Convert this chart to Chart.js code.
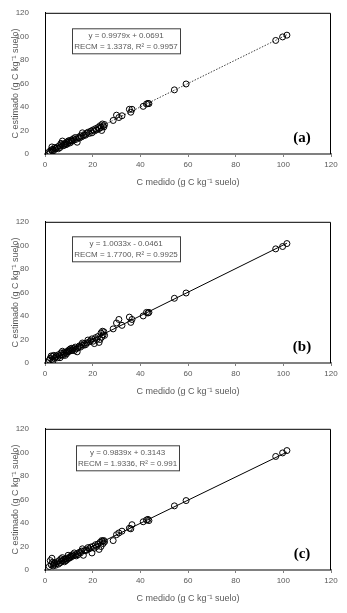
<!DOCTYPE html>
<html lang="es">
<head>
  <meta charset="UTF-8" />
  <title>C medido vs C estimado</title>
  <script src="https://cdn.jsdelivr.net/npm/chart.js"></script>
  <style>
    body {
      margin: 0;
      background: #ffffff;
      width: 347px;
      height: 613px;
      position: relative;
      overflow: hidden;
    }
    .panel {
      position: absolute;
      left: 0;
      width: 347px;
      height: 195px;
    }
  </style>
</head>
<body>
  <div class="panel" style="top:0px"><canvas id="chartA" width="347" height="195"></canvas></div>
  <div class="panel" style="top:209px"><canvas id="chartB" width="347" height="195"></canvas></div>
  <div class="panel" style="top:416px"><canvas id="chartC" width="347" height="195"></canvas></div>

  <script>
    // C medido (g C kg-1 suelo), comun a los tres paneles
    const medido = [1.8, 2.2, 2.6, 2.9, 3.1, 3.4, 3.7, 4.0, 4.4, 4.8,
      5.2, 5.6, 6.0, 6.3, 6.7, 7.0, 7.3, 7.6, 7.9, 8.2,
      8.5, 8.8, 9.1, 9.4, 9.7, 10.0, 10.3, 10.6, 10.9, 11.2,
      11.5, 11.9, 12.3, 12.7, 13.1, 13.5, 13.9, 14.4, 14.9, 15.3,
      15.7, 16.1, 16.5, 17.0, 17.5, 18.0, 18.6, 19.2, 19.7, 20.2,
      20.7, 21.2, 21.7, 22.2, 22.7, 23.1, 23.5, 23.8, 24.1, 24.4,
      24.7, 25.0, 28.6, 30.0, 31.0, 32.3, 35.4, 36.0, 36.5, 41.2,
      42.6, 43.2, 43.6, 54.3, 59.2, 96.8, 99.7, 101.5];

    // C estimado, panel (a)
    const estimadoA = [2.0, 1.5, 3.5, 6.0, 2.5, 4.0, 3.0, 5.5, 4.5, 5.0,
      6.0, 4.5, 7.0, 5.5, 9.0, 8.0, 11.0, 7.0, 8.5, 7.5,
      9.0, 8.0, 10.0, 8.5, 11.0, 10.0, 11.5, 9.5, 11.0, 12.0,
      11.0, 13.0, 12.0, 14.0, 12.5, 10.0, 14.0, 13.5, 15.5, 14.5,
      18.0, 15.5, 16.5, 16.0, 17.5, 18.5, 17.5, 19.5, 18.0, 20.5,
      19.5, 21.5, 20.5, 22.5, 21.5, 24.0, 22.5, 20.0, 25.5, 24.0,
      23.0, 25.0, 28.5, 33.0, 31.0, 32.5, 38.0, 35.5, 38.0, 40.5,
      42.5, 43.0, 42.8, 54.5, 59.5, 96.5, 99.5, 101.0];

    // C estimado, panel (b)
    const estimadoB = [2.5, 4.0, 6.0, 3.0, 5.5, 2.0, 6.5, 4.0, 5.0, 6.0,
      4.5, 7.0, 6.0, 4.5, 8.5, 7.0, 10.0, 6.5, 9.0, 8.0,
      6.5, 9.0, 8.0, 10.0, 9.5, 11.0, 10.0, 12.0, 10.5, 12.5,
      11.0, 12.5, 10.5, 13.5, 12.0, 9.5, 13.0, 14.5, 13.5, 15.5,
      17.0, 15.0, 16.5, 15.5, 17.0, 19.5, 18.0, 19.0, 20.5, 18.5,
      16.5, 21.5, 20.0, 22.5, 17.5, 20.0, 25.5, 22.0, 27.0, 24.0,
      26.5, 23.5, 29.0, 34.0, 37.0, 32.0, 39.0, 34.5, 37.0, 40.0,
      43.0, 42.5, 43.0, 55.0, 59.5, 97.0, 99.0, 101.5];

    // C estimado, panel (c)
    const estimadoC = [3.0, 8.0, 4.5, 10.0, 6.5, 3.5, 5.0, 6.0, 4.0, 5.5,
      7.0, 5.0, 8.0, 6.0, 9.5, 7.5, 10.5, 8.0, 9.0, 7.0,
      9.5, 8.0, 10.0, 9.0, 12.5, 10.0, 11.0, 10.5, 12.0, 11.5,
      13.0, 12.0, 14.5, 13.0, 12.0, 14.0, 13.0, 15.0, 14.5, 16.0,
      18.0, 12.5, 16.5, 16.5, 17.0, 19.0, 18.0, 19.5, 14.5, 20.0,
      18.5, 21.5, 20.0, 22.0, 17.5, 23.5, 20.0, 25.0, 24.5, 22.5,
      25.0, 24.0, 25.0, 30.0, 31.5, 33.0, 35.5, 35.0, 38.5, 41.0,
      42.5, 43.0, 42.0, 54.5, 59.0, 96.5, 99.5, 101.5];

    // extremos de las rectas de ajuste
    const ajusteX = [1.8, 101.5];
    const ajusteA = [1.87, 101.35];
    const ajusteB = [1.76, 101.79];
    const ajusteC = [2.09, 100.18];

    const ecuacionA = ["y = 0.9979x + 0.0691", "RECM = 1.3378, R\u00B2 = 0.9957"];
    const ecuacionB = ["y = 1.0033x - 0.0461", "RECM = 1.7700, R\u00B2 = 0.9925"];
    const ecuacionC = ["y = 0.9839x + 0.3143", "RECM = 1.9336, R\u00B2 = 0.991"];

    const ejeTicks = [0, 20, 40, 60, 80, 100, 120];

    const gris = "#595959";
    const fuente = "'Liberation Sans', Arial, sans-serif";

    // marco superior/derecho, recuadro de la ecuacion y etiqueta del panel
    const adornos = {
      id: "adornos",
      afterDatasetsDraw(chart, args, opts) {
        const { ctx, chartArea: a } = chart;
        ctx.save();
        ctx.strokeStyle = "#000";
        ctx.lineWidth = 1;
        ctx.beginPath();
        ctx.moveTo(a.left, a.top + 0.5);
        ctx.lineTo(a.right - 0.5, a.top + 0.5);
        ctx.lineTo(a.right - 0.5, a.bottom);
        ctx.stroke();

        // recuadro
        const bx = a.left + opts.boxX, by = a.top + opts.boxY;
        ctx.fillStyle = "#fff";
        ctx.fillRect(bx, by, opts.boxW, 25);
        ctx.strokeStyle = "#3f3f3f";
        ctx.strokeRect(bx + 0.5, by + 0.5, opts.boxW, 25);
        ctx.fillStyle = gris;
        ctx.font = "8px " + fuente;
        ctx.textAlign = "center";
        ctx.textBaseline = "middle";
        ctx.fillText(opts.lines[0], bx + opts.boxW / 2, by + 7);
        ctx.fillText(opts.lines[1], bx + opts.boxW / 2, by + 18.5);

        // etiqueta (a), (b), (c)
        ctx.fillStyle = "#000";
        ctx.font = "bold 15px 'Liberation Serif', 'Times New Roman', serif";
        ctx.fillText(opts.tag, a.left + 257, a.top + 125);
        ctx.restore();
      }
    };

    function crearPanel(id, estimado, ajuste, ecuacion, tag, boxX, boxY, boxW, punteada) {
      const ctx = document.getElementById(id).getContext("2d");
      return new Chart(ctx, {
        type: "scatter",
        data: {
          datasets: [{
            data: medido.map((x, i) => ({ x: x, y: estimado[i] })),
            pointRadius: 3,
            pointBorderWidth: 1,
            pointBorderColor: "#000",
            pointBackgroundColor: "rgba(0,0,0,0)",
            showLine: false
          }, {
            type: "line",
            data: ajusteX.map((x, i) => ({ x: x, y: ajuste[i] })),
            borderColor: punteada ? "#404040" : "#000",
            borderWidth: 1,
            borderDash: punteada ? [1.5, 1.5] : [],
            pointRadius: 0,
            fill: false
          }]
        },
        options: {
          responsive: false,
          animation: false,
          events: [],
          layout: { padding: { left: 0, right: 16, top: 11, bottom: 0 } },
          plugins: {
            legend: { display: false },
            tooltip: { enabled: false },
            adornos: { lines: ecuacion, tag: tag, boxX: boxX, boxY: boxY, boxW: boxW }
          },
          scales: {
            x: {
              type: "linear",
              min: 0,
              max: 120,
              afterBuildTicks: s => { s.ticks = ejeTicks.map(v => ({ value: v })); },
              afterFit: s => { s.height = 41; },
              grid: { drawOnChartArea: false, drawTicks: true, tickLength: 3, color: "#808080" },
              border: { color: "#808080", width: 2 },
              ticks: { color: gris, font: { size: 8, family: fuente }, padding: 3, maxRotation: 0 },
              title: {
                display: true,
                text: "C medido (g C kg\u207B\u00B9 suelo)",
                color: gris,
                font: { size: 9, family: fuente },
                padding: { top: 0, bottom: 7 }
              }
            },
            y: {
              type: "linear",
              min: 0,
              max: 120,
              afterBuildTicks: s => { s.ticks = ejeTicks.map(v => ({ value: v })); },
              afterFit: s => { s.width = 45; },
              grid: { display: false },
              border: { color: "#000", width: 1 },
              ticks: { color: gris, font: { size: 8, family: fuente }, padding: 8 },
              title: {
                display: true,
                text: "C estimado (g C kg\u207B\u00B9 suelo)",
                color: gris,
                font: { size: 9, family: fuente },
                padding: { top: 10, bottom: 0 }
              }
            }
          }
        },
        plugins: [adornos]
      });
    }

    crearPanel("chartA", estimadoA, ajusteA, ecuacionA, "(a)", 27, 15.5, 108, true);
    crearPanel("chartB", estimadoB, ajusteB, ecuacionB, "(b)", 27, 14.5, 108, false);
    crearPanel("chartC", estimadoC, ajusteC, ecuacionC, "(c)", 31, 16.5, 103, false);
  </script>
</body>
</html>
